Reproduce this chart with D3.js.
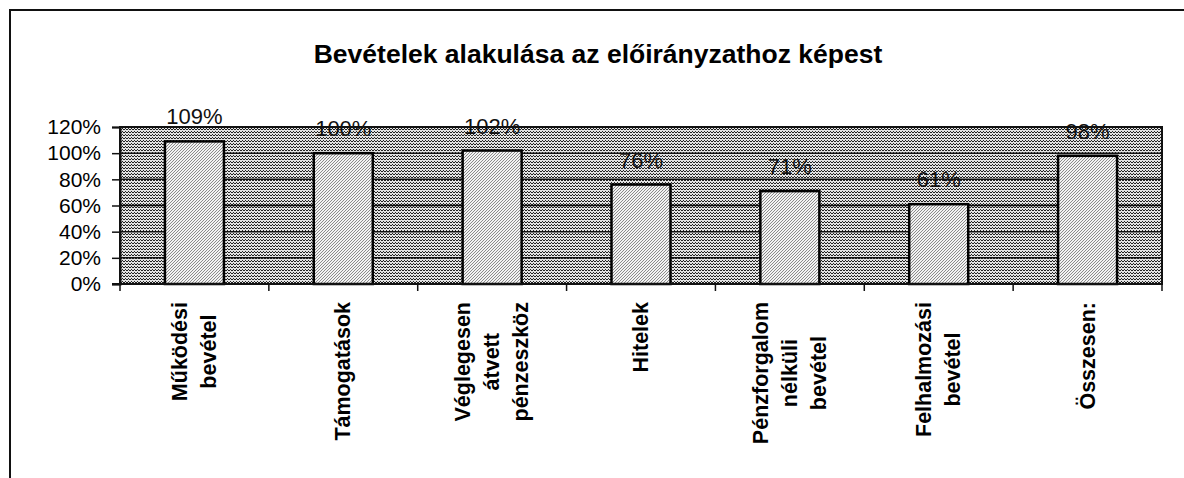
<!DOCTYPE html>
<html>
<head>
<meta charset="utf-8">
<script src="https://cdn.jsdelivr.net/npm/d3@7"></script>
<style>
  html, body { margin: 0; padding: 0; background: #fff; }
  text { font-family: "Liberation Sans", Arial, sans-serif; }
</style>
</head>
<body>
<div id="chart"></div>
<script>
// chart data
var categories = [
    ["Működési", "bevétel"],
    ["Támogatások"],
    ["Véglegesen", "átvett", "pénzeszköz"],
    ["Hitelek"],
    ["Pénzforgalom", "nélküli", "bevétel"],
    ["Felhalmozási", "bevétel"],
    ["Összesen:"]
];
var values = [109, 100, 102, 76, 71, 61, 98];
var yTicks = [0, 20, 40, 60, 80, 100, 120];
var title = "Bevételek alakulása az előirányzathoz képest";

var width = 1184, height = 478;
var plot = { left: 120, right: 1162, top: 127, bottom: 284 };

var svg = d3.select("#chart").append("svg")
    .attr("width", width)
    .attr("height", height);

// scanned-looking dot textures
var defs = svg.append("defs");
var bgPat = defs.append("pattern")
    .attr("id", "bgPat")
    .attr("patternUnits", "userSpaceOnUse")
    .attr("width", 3).attr("height", 3);
bgPat.append("rect").attr("width", 3).attr("height", 3).attr("fill", "#e2e2e2");
[[0, 0], [1, 0], [2, 2]].forEach(function(p) {
    bgPat.append("rect").attr("x", p[0]).attr("y", p[1])
        .attr("width", 1).attr("height", 1).attr("fill", "#222");
});

var barPat = defs.append("pattern")
    .attr("id", "barPat")
    .attr("patternUnits", "userSpaceOnUse")
    .attr("width", 3).attr("height", 3);
barPat.append("rect").attr("width", 3).attr("height", 3).attr("fill", "#f2f2f2");
[[0, 0], [2, 1], [1, 2]].forEach(function(p) {
    barPat.append("rect").attr("x", p[0]).attr("y", p[1])
        .attr("width", 1).attr("height", 1).attr("fill", "#8a8a8a");
});

// outer frame (top + left edges only visible)
svg.append("path")
    .attr("d", "M10,478 V10 H1184")
    .attr("fill", "none")
    .attr("stroke", "#111")
    .attr("stroke-width", 2);

svg.append("text")
    .attr("x", 598)
    .attr("y", 63)
    .attr("text-anchor", "middle")
    .attr("font-size", 26.5)
    .attr("font-weight", "bold")
    .attr("fill", "#000")
    .text(title);

var x = d3.scaleBand()
    .domain(d3.range(categories.length))
    .range([plot.left, plot.right])
    .paddingInner(0)
    .paddingOuter(0);

var y = d3.scaleLinear()
    .domain([0, 120])
    .range([plot.bottom, plot.top]);

// plot background
svg.append("rect")
    .attr("x", plot.left)
    .attr("y", plot.top)
    .attr("width", plot.right - plot.left)
    .attr("height", plot.bottom - plot.top)
    .attr("fill", "url(#bgPat)");

// gridlines
svg.append("g")
    .selectAll("line")
    .data(yTicks.filter(function(t) { return t > 0; }))
    .enter()
    .append("line")
    .attr("x1", plot.left)
    .attr("x2", plot.right)
    .attr("y1", function(d) { return y(d); })
    .attr("y2", function(d) { return y(d); })
    .attr("stroke", "#111")
    .attr("stroke-width", 1.5);

svg.append("rect")
    .attr("x", plot.left)
    .attr("y", plot.top)
    .attr("width", plot.right - plot.left)
    .attr("height", plot.bottom - plot.top)
    .attr("fill", "none")
    .attr("stroke", "#111")
    .attr("stroke-width", 2);

var barW = 59;
svg.append("g")
    .selectAll("rect")
    .data(values)
    .enter()
    .append("rect")
    .attr("x", function(d, i) { return x(i) + (x.bandwidth() - barW) / 2; })
    .attr("y", function(d) { return y(d); })
    .attr("width", barW)
    .attr("height", function(d) { return y(0) - y(d); })
    .attr("fill", "url(#barPat)")
    .attr("stroke", "#000")
    .attr("stroke-width", 2.5);

// value labels
svg.append("g")
    .selectAll("text")
    .data(values)
    .enter()
    .append("text")
    .attr("x", function(d, i) { return x(i) + x.bandwidth() / 2; })
    .attr("y", function(d) { return y(d) - 17; })
    .attr("text-anchor", "middle")
    .attr("font-size", 22)
    .attr("fill", "#111")
    .text(function(d) { return d + "%"; });

// y axis
var yAxis = svg.append("g")
    .attr("transform", "translate(" + plot.left + ",0)")
    .call(d3.axisLeft(y).tickValues(yTicks).tickSize(8).tickPadding(11)
        .tickFormat(function(d) { return d + "%"; }));
yAxis.select(".domain").attr("stroke", "#111").attr("stroke-width", 2);
yAxis.selectAll(".tick line").attr("stroke", "#111").attr("stroke-width", 1.5);
yAxis.selectAll(".tick text")
    .attr("font-size", 21)
    .attr("fill", "#000")
    .attr("font-family", "Liberation Sans, Arial, sans-serif");

// x axis line + ticks on category boundaries
svg.append("line")
    .attr("x1", plot.left - 8).attr("x2", plot.right)
    .attr("y1", plot.bottom).attr("y2", plot.bottom)
    .attr("stroke", "#111").attr("stroke-width", 2);
svg.append("g")
    .selectAll("line")
    .data(d3.range(categories.length + 1))
    .enter()
    .append("line")
    .attr("x1", function(i) { return plot.left + i * x.step(); })
    .attr("x2", function(i) { return plot.left + i * x.step(); })
    .attr("y1", plot.bottom)
    .attr("y2", plot.bottom + 7)
    .attr("stroke", "#111")
    .attr("stroke-width", 1.5);

// rotated category labels, block top-aligned, lines centred
var lineGap = 29;
var labelTop = 302;
categories.forEach(function(lines, i) {
    var cx = x(i) + x.bandwidth() / 2;
    var g = svg.append("g");
    var texts = lines.map(function(line) {
        return g.append("text")
            .attr("font-size", 21.5)
            .attr("font-weight", "bold")
            .attr("fill", "#000")
            .attr("text-anchor", "middle")
            .text(line);
    });
    var maxLen = d3.max(texts, function(t) { return t.node().getComputedTextLength(); });
    var cy = labelTop + maxLen / 2;
    texts.forEach(function(t, k) {
        var bx = cx + (k - (lines.length - 1) / 2) * lineGap + 7;
        t.attr("transform", "translate(" + bx + "," + cy + ") rotate(-90)");
    });
});
</script>
</body>
</html>
